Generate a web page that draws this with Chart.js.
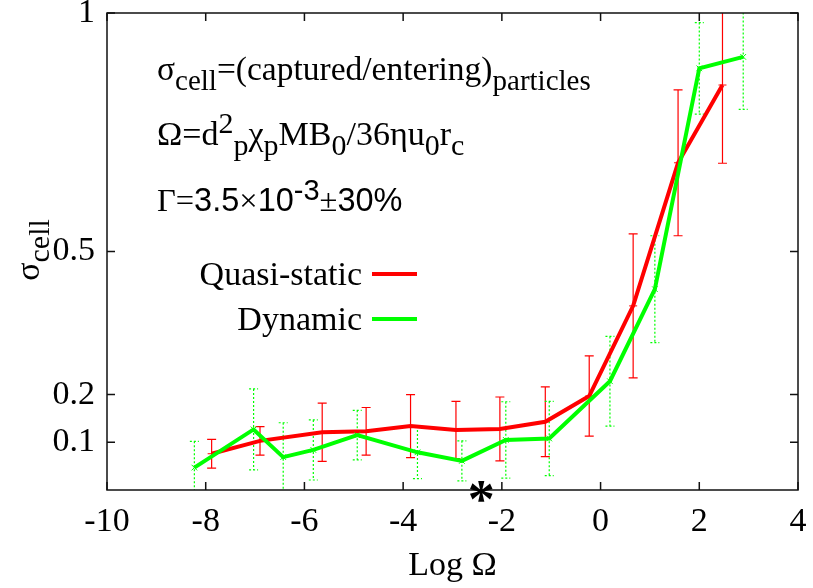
<!DOCTYPE html>
<html>
<head>
<meta charset="utf-8">
<script src="https://cdn.jsdelivr.net/npm/chart.js@4.4.0/dist/chart.umd.min.js"></script>
<style>
html,body{margin:0;padding:0;background:#fff;}
#wrap{width:813px;height:588px;}
</style>
</head>
<body>
<div id="wrap"><canvas id="c" width="813" height="588"></canvas></div>
<script>
// ---- data ----
const xTicks = [-10, -8, -6, -4, -2, 0, 2, 4];
const yTicks = [0.1, 0.2, 0.5, 1];

const quasiX   = [-7.88, -6.90, -5.64, -4.75, -3.85, -2.93, -2.04, -1.12, -0.23, 0.66, 1.57, 2.47];
const quasiY   = [0.076, 0.103, 0.121, 0.123, 0.134, 0.126, 0.128, 0.143, 0.197, 0.386, 0.686, 0.849];
const quasiErr = [0.030, 0.030, 0.061, 0.050, 0.066, 0.060, 0.067, 0.073, 0.084, 0.151, 0.153, 0.164];

const dynX   = [-8.23, -7.03, -6.43, -5.82, -4.93, -3.71, -2.81, -1.92, -1.04, 0.19, 1.10, 2.00, 2.89];
const dynY   = [0.047, 0.127, 0.069, 0.084, 0.115, 0.079, 0.061, 0.105, 0.108, 0.228, 0.421, 0.884, 0.908];
const dynErr = [0.055, 0.085, 0.072, 0.063, 0.052, 0.055, 0.042, 0.080, 0.078, 0.094, 0.112, 0.096, 0.110];

const seriesNames = ['Quasi-static', 'Dynamic'];
const starX = [-2.42];
const starY = [0];

const SERIF = "'Liberation Serif'";
const SANS = "'Liberation Sans'";
const RED = '#ff0000';
const GREEN = '#00ff00';

function pts(xs, ys){ return xs.map((x,i)=>({x:x, y:ys[i]})); }

function drawRich(ctx, x, y, parts, size){
  // parts: [text, mode(0 normal,-1 sub,1 sup), family?]
  let cx = x;
  for (const p of parts){
    const mode = p[1];
    const fam = p[2] || SERIF;
    const fs = mode === 0 ? size : Math.round(size * 0.88);
    const dy = mode === -1 ? size * 0.3 : (mode === 1 ? -size * 0.34 : 0);
    ctx.font = fs + 'px ' + fam;
    ctx.fillText(p[0], cx, y + dy);
    cx += ctx.measureText(p[0]).width;
  }
  return cx - x;
}
function richWidth(ctx, parts, size){
  let w = 0;
  for (const p of parts){
    const fam = p[2] || SERIF;
    const fs = p[1] === 0 ? size : Math.round(size * 0.88);
    ctx.font = fs + 'px ' + fam;
    w += ctx.measureText(p[0]).width;
  }
  return w;
}

const errorBars = {
  id: 'errorBars',
  beforeDatasetsDraw(chart){
    const {ctx, chartArea: a, scales: {x, y}} = chart;
    ctx.save();
    ctx.beginPath();
    ctx.rect(a.left, a.top, a.right - a.left, a.bottom - a.top);
    ctx.clip();
    const sets = [
      [quasiX, quasiY, quasiErr, RED, []],
      [dynX, dynY, dynErr, GREEN, [2, 2]]
    ];
    for (const [xs, ys, es, col, dash] of sets){
      ctx.strokeStyle = col;
      ctx.lineWidth = 1.2;
      ctx.setLineDash(dash);
      for (let i = 0; i < xs.length; i++){
        const px = x.getPixelForValue(xs[i]);
        const t = y.getPixelForValue(ys[i] + es[i]);
        const b = y.getPixelForValue(ys[i] - es[i]);
        ctx.beginPath();
        ctx.moveTo(px, t); ctx.lineTo(px, b);
        ctx.moveTo(px - 4.5, t); ctx.lineTo(px + 4.5, t);
        ctx.moveTo(px - 4.5, b); ctx.lineTo(px + 4.5, b);
        ctx.stroke();
      }
    }
    ctx.restore();
  }
};

const decor = {
  id: 'decor',
  afterDraw(chart){
    const {ctx, chartArea: a, scales: {x, y}} = chart;
    ctx.save();
    // frame
    ctx.strokeStyle = '#111';
    ctx.lineWidth = 1.5;
    ctx.strokeRect(a.left, a.top, a.right - a.left, a.bottom - a.top);
    // inward mirrored ticks
    const tl = 8;
    ctx.beginPath();
    for (const v of xTicks){
      const px = x.getPixelForValue(v);
      ctx.moveTo(px, a.bottom); ctx.lineTo(px, a.bottom - tl);
      ctx.moveTo(px, a.top); ctx.lineTo(px, a.top + tl);
    }
    for (const v of yTicks){
      const py = y.getPixelForValue(v);
      ctx.moveTo(a.left, py); ctx.lineTo(a.left + tl, py);
      ctx.moveTo(a.right, py); ctx.lineTo(a.right - tl, py);
    }
    ctx.stroke();

    ctx.fillStyle = '#000';
    ctx.textBaseline = 'alphabetic';
    ctx.textAlign = 'left';
    // annotations
    drawRich(ctx, 157, 80, [['σ',0],['cell',-1],['=(captured/entering)',0],['particles',-1]], 33.5);
    drawRich(ctx, 157, 145, [['Ω=d',0],['2',1],['p',-1],['χ',0],['p',-1],['MB',0],['0',-1],['/36ηu',0],['0',-1],['r',0],['c',-1]], 34);
    drawRich(ctx, 157, 211, [['Γ=',0],['3.5',0,SANS],['×',0],['10',0,SANS],['-3',1,SANS],['±',0],['30%',0,SANS]], 32.5);

    // legend
    ctx.textAlign = 'right';
    ctx.font = '34px ' + SERIF;
    ctx.fillText(seriesNames[0], 362, 285);
    ctx.fillText(seriesNames[1], 362, 330);
    ctx.lineWidth = 4;
    ctx.strokeStyle = RED;
    ctx.beginPath(); ctx.moveTo(372, 274); ctx.lineTo(417, 274); ctx.stroke();
    ctx.strokeStyle = GREEN;
    ctx.beginPath(); ctx.moveTo(372, 319); ctx.lineTo(417, 319); ctx.stroke();

    // axis titles
    ctx.textAlign = 'center';
    ctx.font = '34px ' + SERIF;
    ctx.fillText('Log Ω', (a.left + a.right) / 2, 575);
    ctx.save();
    ctx.translate(39, 250);
    ctx.rotate(-Math.PI / 2);
    ctx.textAlign = 'left';
    const yl = [['σ',0],['cell',-1]];
    const w = richWidth(ctx, yl, 34);
    drawRich(ctx, -w / 2, 0, yl, 34);
    ctx.restore();

    // star marker
    ctx.font = 'bold 54px ' + SERIF;
    ctx.textAlign = 'center';
    for (let i = 0; i < starX.length; i++){
      ctx.fillText('*', x.getPixelForValue(starX[i]), y.getPixelForValue(starY[i]) + 27);
    }
    ctx.restore();
  }
};

new Chart(document.getElementById('c'), {
  type: 'scatter',
  data: {
    datasets: [
      {
        label: seriesNames[0], data: pts(quasiX, quasiY), showLine: true,
        borderColor: RED, backgroundColor: RED, borderWidth: 4,
        pointStyle: 'line', pointRadius: 4, pointBorderWidth: 1, order: 2
      },
      {
        label: seriesNames[1], data: pts(dynX, dynY), showLine: true,
        borderColor: GREEN, backgroundColor: GREEN, borderWidth: 4,
        pointStyle: 'crossRot', pointRadius: 4, pointBorderWidth: 1, order: 1
      }
    ]
  },
  options: {
    responsive: false,
    animation: false,
    devicePixelRatio: 1,
    layout: { padding: { left: 0, right: 15, top: 13, bottom: 0 } },
    plugins: { legend: { display: false }, tooltip: { enabled: false } },
    scales: {
      x: {
        type: 'linear', min: -10, max: 4,
        afterBuildTicks: s => { s.ticks = xTicks.map(v => ({ value: v })); },
        afterFit: s => { s.height = 98; s.paddingLeft = 0; s.paddingRight = 0; },
        grid: { display: false, drawTicks: false },
        border: { display: false },
        ticks: {
          autoSkip: false, maxRotation: 0, padding: 12, color: '#000',
          font: { family: SERIF, size: 34 },
          callback: v => String(v)
        }
      },
      y: {
        type: 'linear', min: 0, max: 1,
        afterBuildTicks: s => { s.ticks = yTicks.map(v => ({ value: v })); },
        afterFit: s => { s.width = 107; s.paddingTop = 0; s.paddingBottom = 0; },
        grid: { display: false, drawTicks: false },
        border: { display: false },
        ticks: {
          autoSkip: false, padding: 12, color: '#000',
          font: { family: SERIF, size: 34 },
          callback: v => String(v)
        }
      }
    }
  },
  plugins: [errorBars, decor]
});
</script>
</body>
</html>
